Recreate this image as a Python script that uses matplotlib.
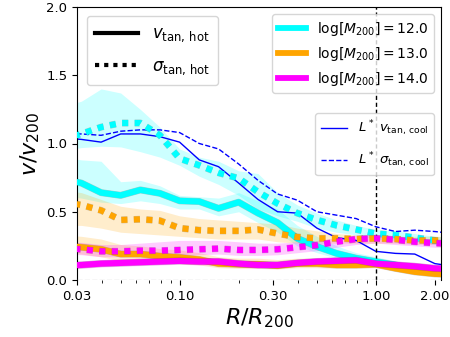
import numpy as np
import matplotlib
matplotlib.use("Agg")
import matplotlib.pyplot as plt
import matplotlib.patheffects as pe
from matplotlib.lines import Line2D
from matplotlib.ticker import FixedLocator, FixedFormatter, NullFormatter

# radial bins (R/R200)
R = [0.0251, 0.0316, 0.0398, 0.0501, 0.0631, 0.0794, 0.100, 0.126, 0.158, 0.200,
     0.251, 0.316, 0.398, 0.501, 0.631, 0.794, 1.00, 1.26, 1.58, 2.00, 2.51]

# log M200 = 12
v12 = [0.74, 0.71, 0.64, 0.62, 0.66, 0.635, 0.58, 0.575, 0.525, 0.57, 0.49, 0.42,
       0.305, 0.245, 0.195, 0.16, 0.135, 0.11, 0.08, 0.06, 0.05]
v12_lo = [0.62, 0.60, 0.57, 0.56, 0.58, 0.56, 0.52, 0.52, 0.47, 0.50, 0.42, 0.35,
          0.25, 0.20, 0.16, 0.13, 0.11, 0.09, 0.065, 0.045, 0.04]
v12_hi = [0.90, 0.88, 0.87, 0.72, 0.73, 0.69, 0.62, 0.61, 0.60, 0.64, 0.58, 0.52,
          0.40, 0.32, 0.25, 0.20, 0.17, 0.14, 0.11, 0.085, 0.07]
s12 = [1.03, 1.07, 1.12, 1.15, 1.15, 1.06, 0.89, 0.84, 0.785, 0.745, 0.645, 0.56,
       0.49, 0.44, 0.40, 0.37, 0.34, 0.33, 0.31, 0.29, 0.28]
s12_lo = [0.95, 0.97, 0.98, 0.975, 0.94, 0.90, 0.84, 0.76, 0.70, 0.62, 0.52, 0.47,
          0.43, 0.38, 0.35, 0.33, 0.30, 0.29, 0.28, 0.26, 0.25]
s12_hi = [1.27, 1.31, 1.40, 1.37, 1.25, 1.12, 0.96, 0.90, 0.87, 0.80, 0.78, 0.64,
          0.55, 0.49, 0.44, 0.40, 0.37, 0.36, 0.34, 0.32, 0.31]

# log M200 = 13
v13 = [0.255, 0.24, 0.225, 0.19, 0.19, 0.175, 0.165, 0.15, 0.12, 0.115, 0.115, 0.105,
       0.12, 0.12, 0.11, 0.11, 0.115, 0.085, 0.06, 0.045, 0.04]
v13_lo = [0.20, 0.19, 0.17, 0.14, 0.14, 0.13, 0.12, 0.11, 0.09, 0.085, 0.085, 0.08,
          0.09, 0.09, 0.085, 0.085, 0.09, 0.065, 0.045, 0.03, 0.03]
v13_hi = [0.33, 0.32, 0.30, 0.26, 0.25, 0.23, 0.22, 0.20, 0.17, 0.16, 0.16, 0.15,
          0.16, 0.16, 0.15, 0.14, 0.14, 0.11, 0.08, 0.065, 0.06]
s13 = [0.57, 0.55, 0.51, 0.44, 0.445, 0.435, 0.38, 0.365, 0.36, 0.36, 0.37, 0.34,
       0.315, 0.305, 0.305, 0.30, 0.305, 0.30, 0.29, 0.29, 0.29]
s13_lo = [0.40, 0.40, 0.38, 0.35, 0.34, 0.33, 0.32, 0.31, 0.30, 0.30, 0.30, 0.28,
          0.27, 0.27, 0.27, 0.27, 0.27, 0.27, 0.26, 0.26, 0.26]
s13_hi = [0.66, 0.64, 0.59, 0.54, 0.52, 0.51, 0.47, 0.45, 0.44, 0.43, 0.42, 0.41,
          0.38, 0.36, 0.34, 0.33, 0.33, 0.32, 0.32, 0.32, 0.32]

# log M200 = 14
v14 = [0.105, 0.11, 0.12, 0.125, 0.13, 0.135, 0.14, 0.135, 0.135, 0.12, 0.11, 0.11,
       0.125, 0.135, 0.14, 0.145, 0.12, 0.11, 0.10, 0.085, 0.08]
v14_lo = [0.08, 0.085, 0.095, 0.10, 0.105, 0.11, 0.115, 0.11, 0.11, 0.095, 0.085, 0.085,
          0.10, 0.11, 0.115, 0.12, 0.095, 0.085, 0.075, 0.06, 0.055]
v14_hi = [0.135, 0.14, 0.15, 0.155, 0.16, 0.165, 0.17, 0.165, 0.165, 0.15, 0.14, 0.14,
          0.155, 0.165, 0.17, 0.175, 0.15, 0.14, 0.13, 0.115, 0.11]
s14 = [0.23, 0.225, 0.21, 0.21, 0.215, 0.215, 0.22, 0.225, 0.23, 0.22, 0.22, 0.225,
       0.24, 0.255, 0.28, 0.30, 0.305, 0.295, 0.28, 0.27, 0.265]
s14_lo = [0.19, 0.185, 0.17, 0.17, 0.175, 0.175, 0.18, 0.185, 0.19, 0.18, 0.18, 0.185,
          0.20, 0.215, 0.24, 0.26, 0.27, 0.26, 0.25, 0.24, 0.235]
s14_hi = [0.28, 0.275, 0.26, 0.26, 0.27, 0.28, 0.29, 0.29, 0.29, 0.28, 0.27, 0.27,
          0.28, 0.29, 0.31, 0.33, 0.335, 0.325, 0.31, 0.30, 0.295]

# L* cool gas
v_cool = [1.04, 1.03, 1.01, 1.07, 1.07, 1.05, 1.01, 0.88, 0.83, 0.71, 0.59, 0.50,
          0.49, 0.38, 0.31, 0.29, 0.21, 0.195, 0.19, 0.12, 0.10]
s_cool = [1.07, 1.07, 1.06, 1.09, 1.10, 1.10, 1.08, 1.00, 0.96, 0.85, 0.73, 0.63,
          0.585, 0.50, 0.475, 0.45, 0.39, 0.355, 0.365, 0.355, 0.34]

mass_labels = [r'$\log[M_{200}]=12.0$', r'$\log[M_{200}]=13.0$', r'$\log[M_{200}]=14.0$']
mass_colors = ['cyan', 'orange', 'magenta']

x_ticks = [0.03, 0.10, 0.30, 1.00, 2.00]
x_ticklabels = ['0.03', '0.10', '0.30', '1.00', '2.00']
y_ticks = [0.0, 0.5, 1.0, 1.5, 2.0]

fig = plt.figure(figsize=(4.5, 3.37), dpi=100)
ax = fig.add_axes([77/450, 1-280/337, 364/450, 273/337])

# cool lines
ax.plot(R, v_cool, color='blue', lw=1.0, zorder=2)
ax.plot(R, s_cool, color='blue', lw=1.0, ls='--', zorder=2)

sets = [(v12, v12_lo, v12_hi, s12, s12_lo, s12_hi),
        (v13, v13_lo, v13_hi, s13, s13_lo, s13_hi),
        (v14, v14_lo, v14_hi, s14, s14_lo, s14_hi)]
stroke = [pe.Stroke(linewidth=5.0, foreground='k', alpha=0.2), pe.Normal()]
for (v, vlo, vhi, s, slo, shi), c in zip(sets, mass_colors):
    ax.fill_between(R, vlo, vhi, color=c, alpha=0.2, lw=0, zorder=1)
    ax.fill_between(R, slo, shi, color=c, alpha=0.2, lw=0, zorder=1)
for (v, vlo, vhi, s, slo, shi), c in zip(sets, mass_colors):
    ax.plot(R, v, color=c, lw=4.4, solid_capstyle='butt', path_effects=stroke, zorder=3)
    ax.plot(R, s, color=c, lw=4.4, dashes=(1, 1.05), path_effects=stroke, zorder=3)

ax.axvline(1.0, color='k', ls='--', lw=1.0, dashes=(3, 2), zorder=2)
ax.axhline(0.0, color='lightgray', ls='--', lw=1.0, zorder=3)
ax.spines['bottom'].set_visible(False)

ax.set_xscale('log')
ax.set_xlim(0.03, 2.15)
ax.set_ylim(0, 2.0)
ax.xaxis.set_major_locator(FixedLocator(x_ticks))
ax.xaxis.set_major_formatter(FixedFormatter(x_ticklabels))
ax.xaxis.set_minor_formatter(NullFormatter())
ax.set_yticks(y_ticks)
ax.set_yticklabels(['0.0', '0.5', '1.0', '1.5', '2.0'])
ax.tick_params(labelsize=9.5)
ax.set_xlabel(r'$R/R_{200}$', fontsize=16, labelpad=3)
ax.set_ylabel(r'$v/v_{200}$', fontsize=16, labelpad=3)

# legend 1
h1 = [Line2D([], [], color='k', lw=3.0),
      Line2D([], [], color='k', lw=3.0, dashes=(1, 1.2))]
leg1 = ax.legend(h1, [r'$v_{\rm tan,\,hot}$', r'$\sigma_{\rm tan,\,hot}$'],
                 loc='upper left', bbox_to_anchor=(0.027, 0.967), borderaxespad=0,
                 fontsize=12, handlelength=2.6, labelspacing=0.75, borderpad=0.5)
ax.add_artist(leg1)
# legend 2
h2 = [Line2D([], [], color=c, lw=4.2) for c in mass_colors]
leg2 = ax.legend(h2, mass_labels, loc='upper right', bbox_to_anchor=(0.981, 0.974),
                 borderaxespad=0, fontsize=10)
ax.add_artist(leg2)
# legend 3
h3 = [Line2D([], [], color='blue', lw=1.0), Line2D([], [], color='blue', lw=1.0, ls='--')]
leg3 = ax.legend(h3, [r'$L^*$ $v_{\rm tan,\,cool}$', r'$L^*$ $\sigma_{\rm tan,\,cool}$'],
                 loc='upper right', bbox_to_anchor=(0.981, 0.612), borderaxespad=0,
                 fontsize=9.5, labelspacing=0.9)

fig.savefig('out.png', dpi=100)
